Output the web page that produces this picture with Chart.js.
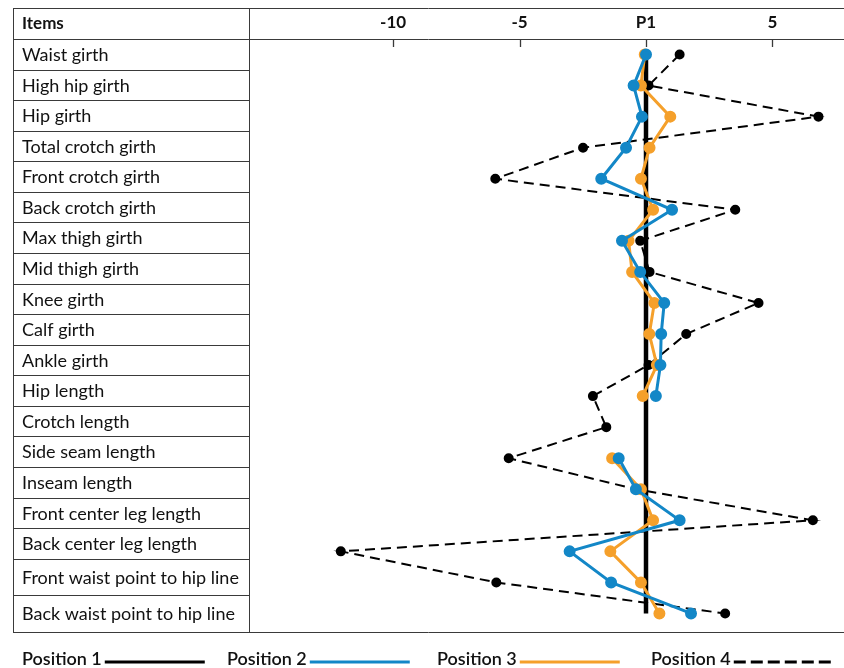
<!DOCTYPE html>
<html>
<head>
<meta charset="utf-8">
<script src="https://cdn.jsdelivr.net/npm/chart.js@4.4.0/dist/chart.umd.min.js"></script>
<style>
  html, body { margin: 0; padding: 0; background: #fff; }
  canvas { display: block; }
</style>
</head>
<body>
<canvas id="chart" width="844" height="668"></canvas>
<script>
// table rows (one per measurement item)
const items = [
    'Waist girth', 'High hip girth', 'Hip girth', 'Total crotch girth',
    'Front crotch girth', 'Back crotch girth', 'Max thigh girth', 'Mid thigh girth',
    'Knee girth', 'Calf girth', 'Ankle girth', 'Hip length', 'Crotch length',
    'Side seam length', 'Inseam length', 'Front center leg length',
    'Back center leg length', 'Front waist point to hip line', 'Back waist point to hip line'
];
const seriesNames = ['Position 1', 'Position 2', 'Position 3', 'Position 4'];

// difference from position 1 (P1 = 0)
const position1 = [0, 0, 0, 0, 0, 0, 0, 0, 0, 0, 0, 0, 0, 0, 0, 0, 0, 0, 0];
const position2 = [0, -0.49, -0.16, -0.79, -1.77, 1.03, -0.95, -0.23, 0.72, 0.6, 0.57, 0.39, null, -1.08, -0.4, 1.33, -3.02, -1.38, 1.78];
const position3 = [-0.05, -0.2, 0.96, 0.14, -0.2, 0.28, -0.69, -0.55, 0.33, 0.13, 0.43, -0.13, null, -1.34, -0.2, 0.28, -1.41, -0.2, 0.53];
const position4 = [1.33, 0.1, 6.82, -2.49, -5.96, 3.53, -0.23, 0.14, 4.45, 1.59, 0.1, -2.1, -1.57, -5.43, -0.39, 6.6, -12.07, -5.92, 3.13];

// axis ticks along the top
const xTicks = [-10, -5, 0, 5];

const FONT = 'Lato, "DejaVu Sans", sans-serif';
const BLUE = '#1387c7';
const ORANGE = '#f5a02b';

// table: left column with item names, rows drawn with lines
const tablePlugin = {
    id: 'table',
    beforeDatasetsDraw(chart) {
        const ctx = chart.ctx;
        const left = 13, mid = 249, right = chart.width, top = 8, head = 39, bottom = 632;
        // last two rows are a bit taller
        const weights = items.map((_, i) => (i >= items.length - 2 ? 1.2 : 1));
        const unit = (bottom - head) / weights.reduce((a, b) => a + b, 0);

        ctx.save();
        ctx.strokeStyle = '#3a3a3a';
        ctx.lineWidth = 1;
        ctx.beginPath();
        ctx.moveTo(left, top + 0.5); ctx.lineTo(right, top + 0.5);
        ctx.moveTo(left, head + 0.5); ctx.lineTo(right, head + 0.5);
        ctx.moveTo(left, bottom + 0.5); ctx.lineTo(right, bottom + 0.5);
        ctx.moveTo(left + 0.5, top); ctx.lineTo(left + 0.5, bottom);
        ctx.moveTo(mid + 0.5, top); ctx.lineTo(mid + 0.5, bottom);

        ctx.fillStyle = '#111';
        ctx.textBaseline = 'middle';
        ctx.textAlign = 'left';
        ctx.font = 'bold 17px ' + FONT;
        ctx.fillText('Items', 22, 24);

        ctx.font = '18px ' + FONT;
        let y = head;
        items.forEach((name, i) => {
            const h = weights[i] * unit;
            ctx.fillText(name, 22, y + h / 2 + 1);
            y += h;
            if (i < items.length - 1) {
                const yy = Math.round(y) + 0.5;
                ctx.moveTo(left, yy); ctx.lineTo(mid, yy);
            }
        });
        ctx.stroke();

        // small tick marks pointing into the plot
        const xs = chart.scales.x;
        ctx.beginPath();
        ctx.lineWidth = 1.3;
        xTicks.forEach(v => {
            const px = Math.round(xs.getPixelForValue(v)) + 0.5;
            ctx.moveTo(px, head); ctx.lineTo(px, head + 8);
        });
        ctx.stroke();
        ctx.restore();
    }
};

// legend along the bottom: name first, then a line sample
const legendPlugin = {
    id: 'bottomLegend',
    afterDraw(chart) {
        const ctx = chart.ctx;
        const starts = [22, 227, 437, 651];
        const y = 659;
        ctx.save();
        ctx.font = '600 18px ' + FONT;
        ctx.textBaseline = 'middle';
        ctx.textAlign = 'left';
        chart.data.datasets.forEach((ds, i) => {
            ctx.fillStyle = '#111';
            ctx.fillText(ds.label, starts[i], y);
            const x0 = starts[i] + ctx.measureText(ds.label).width + 3;
            ctx.strokeStyle = ds.borderColor;
            ctx.lineWidth = 3;
            ctx.setLineDash(ds.borderDash ? [12, 5] : []);
            ctx.beginPath();
            ctx.moveTo(x0, y + 3);
            ctx.lineTo(x0 + 100, y + 3);
            ctx.stroke();
        });
        ctx.restore();
    }
};

const ctx = document.getElementById('chart').getContext('2d');
const chart = new Chart(ctx, {
    type: 'line',
    data: {
        labels: items,
        datasets: [
            {
                label: seriesNames[0],
                data: position1,
                borderColor: '#000',
                backgroundColor: '#000',
                borderWidth: 4.5,
                pointRadius: 0,
                order: 4
            },
            {
                label: seriesNames[1],
                data: position2,
                borderColor: BLUE,
                backgroundColor: BLUE,
                borderWidth: 3,
                pointRadius: 4.5,
                order: 1
            },
            {
                label: seriesNames[2],
                data: position3,
                borderColor: ORANGE,
                backgroundColor: ORANGE,
                borderWidth: 3,
                pointRadius: 4.5,
                order: 2
            },
            {
                label: seriesNames[3],
                data: position4,
                borderColor: '#000',
                backgroundColor: '#000',
                borderWidth: 2,
                borderDash: [10, 6],
                pointRadius: 4,
                order: 3
            }
        ]
    },
    options: {
        indexAxis: 'y',
        responsive: false,
        animation: false,
        spanGaps: false,
        layout: { autoPadding: false, padding: { left: 249, right: 0, top: 0, bottom: 39 } },
        scales: {
            x: {
                type: 'linear',
                position: 'top',
                min: -15.7,
                max: 7.83,
                afterBuildTicks(scale) {
                    scale.ticks = xTicks.map(v => ({ value: v }));
                },
                afterFit(scale) {
                    scale.height = 39;
                },
                grid: { display: false, drawTicks: false },
                border: { display: false },
                ticks: {
                    padding: 6,
                    color: '#111',
                    font: { family: FONT, size: 17, weight: 'bold' },
                    callback: v => (v === 0 ? 'P1' : v)
                }
            },
            y: {
                type: 'category',
                display: false,
                offset: true
            }
        },
        plugins: {
            legend: { display: false },
            tooltip: { enabled: false }
        }
    },
    plugins: [tablePlugin, legendPlugin]
});
</script>
</body>
</html>
